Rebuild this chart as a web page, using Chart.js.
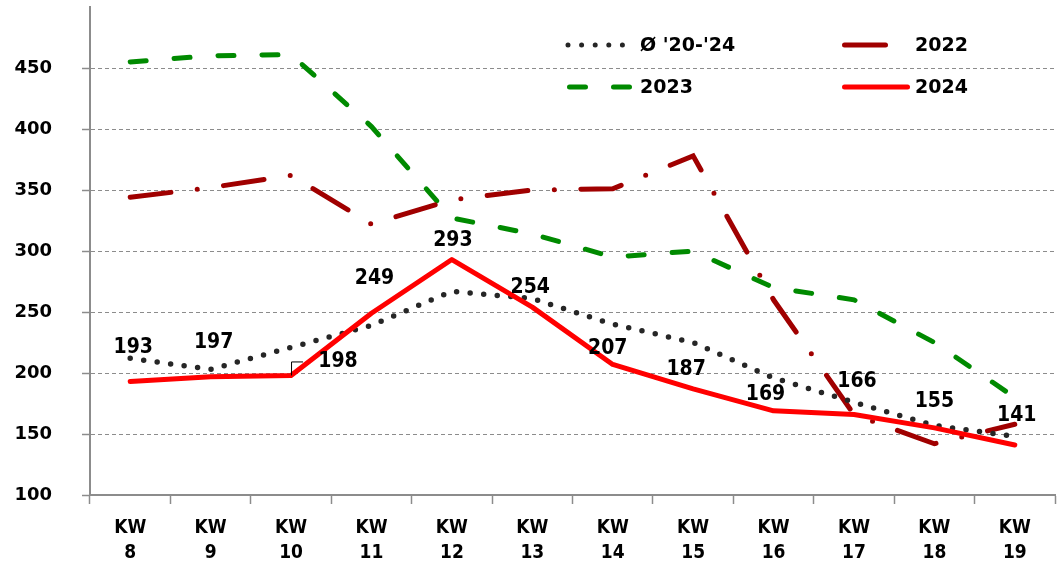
<!DOCTYPE html>
<html><head><meta charset="utf-8">
<script src="https://cdn.jsdelivr.net/npm/chart.js@4.4.1/dist/chart.umd.min.js"></script>
<style>html,body{margin:0;padding:0;background:#fff;}#wrap{width:1062px;height:571px;position:relative;}canvas{display:block;}</style>
</head><body><div id="wrap"><canvas id="c" width="1062" height="571" style="width:1062px;height:571px"></canvas></div>
<script>
const categories = [['KW','8'],['KW','9'],['KW','10'],['KW','11'],['KW','12'],['KW','13'],['KW','14'],['KW','15'],['KW','16'],['KW','17'],['KW','18'],['KW','19']];
const avg20to24 = [212, 203, 221, 239, 267, 261, 240, 225, 196, 176, 157, 148];
const values2022 = [344, 352, 362, 322, 342, 350, 351, 378, 260, 166, 142, 158];
const values2023 = [455, 460, 461, 402, 327, 314, 295, 300, 270, 260, 225, 180];
const values2024 = [193, 197, 198, 249, 293, 254, 207, 187, 169, 166, 155, 141];
const seriesNames = ["Ø '20-'24", '2022', '2023', '2024'];
const yMin = 100, yMax = 500, yStep = 50;

// label placement offsets (style only)
const labelDx = [3, 3, 47, 3, 1, -2, -5, -7, -8, 3, 0, 2];
const labelDy = [-34, -34, -14, -35, -19, -20, -16, -19, -16, -33, -26, -29];

const COL_AVG = '#262626', COL_22 = '#a00000', COL_23 = '#008a00', COL_24 = '#ff0000';
const DASH_AVG = [0, 13.6], DASH_22 = [41, 26.5, 0, 26.5], DASH_23 = [16, 28];

const labelPlugin = {
  id: 'labels24',
  afterDatasetsDraw(chart) {
    const ctx = chart.ctx;
    const meta = chart.getDatasetMeta(0);
    ctx.save();
    ctx.font = 'bold 21px "DejaVu Sans Condensed", "DejaVu Sans", sans-serif';
    ctx.fillStyle = '#000';
    ctx.textAlign = 'center';
    ctx.textBaseline = 'middle';
    meta.data.forEach((pt, i) => {
      if (i === 2) {
        ctx.strokeStyle = '#000'; ctx.lineWidth = 1;
        ctx.beginPath();
        ctx.moveTo(pt.x + 0.5, pt.y); ctx.lineTo(pt.x + 0.5, pt.y - 13.5); ctx.lineTo(pt.x + 12, pt.y - 13.5);
        ctx.stroke();
      }
      ctx.fillText(String(values2024[i]), pt.x + labelDx[i], pt.y + labelDy[i]);
    });
    ctx.restore();
  }
};

const legendPlugin = {
  id: 'customLegend',
  afterDraw(chart) {
    const ctx = chart.ctx;
    const items = [
      {name: seriesNames[0], color: COL_AVG, dash: DASH_AVG, x1: 568, x2: 624, tx: 640, y: 45},
      {name: seriesNames[1], color: COL_22, dash: DASH_22, x1: 844.5, x2: 907.5, tx: 915, y: 45},
      {name: seriesNames[2], color: COL_23, dash: DASH_23, x1: 569.5, x2: 630.5, tx: 640, y: 87},
      {name: seriesNames[3], color: COL_24, dash: [], x1: 844.5, x2: 907.5, tx: 915, y: 87}
    ];
    ctx.save();
    items.forEach(it => {
      ctx.strokeStyle = it.color; ctx.lineWidth = 5; ctx.lineCap = 'round';
      ctx.setLineDash(it.dash);
      ctx.beginPath(); ctx.moveTo(it.x1, it.y); ctx.lineTo(it.x2, it.y); ctx.stroke();
      ctx.setLineDash([]);
      ctx.font = 'bold 19px "DejaVu Sans", sans-serif';
      ctx.fillStyle = '#000'; ctx.textAlign = 'left'; ctx.textBaseline = 'middle';
      ctx.fillText(it.name, it.tx, it.y + 1);
    });
    ctx.restore();
  }
};

const gridCol = (ctx) => (ctx.tick && (ctx.tick.value === yMax || ctx.tick.value === yMin)) ? 'rgba(0,0,0,0)' : '#8c8c8c';

new Chart(document.getElementById('c'), {
  type: 'line',
  data: {
    labels: categories,
    datasets: [
      {label: seriesNames[3], data: values2024, borderColor: COL_24, borderWidth: 5, pointRadius: 0, tension: 0, borderCapStyle: 'round', borderJoinStyle: 'round'},
      {label: seriesNames[0], data: avg20to24, borderColor: COL_AVG, borderWidth: 5.5, borderDash: DASH_AVG, borderCapStyle: 'round', pointRadius: 0, tension: 0},
      {label: seriesNames[1], data: values2022, borderColor: COL_22, borderWidth: 5, borderDash: DASH_22, borderCapStyle: 'round', pointRadius: 0, tension: 0},
      {label: seriesNames[2], data: values2023, borderColor: COL_23, borderWidth: 5, borderDash: DASH_23, borderCapStyle: 'round', pointRadius: 0, tension: 0}
    ]
  },
  options: {
    responsive: false,
    animation: false,
    devicePixelRatio: 1,
    layout: {padding: {top: 7, right: 7, left: 0, bottom: 0}, autoPadding: false},
    plugins: {legend: {display: false}, tooltip: {enabled: false}},
    scales: {
      x: {
        offset: true,
        grid: {offset: true, drawOnChartArea: false, drawTicks: true, tickLength: 9, tickColor: '#8c8c8c', tickWidth: 1.5},
        border: {display: true, color: '#8c8c8c', width: 2},
        ticks: {color: '#000', padding: 11, maxRotation: 0, autoSkip: false,
          font: {family: '"DejaVu Sans Condensed", "DejaVu Sans", sans-serif', weight: 'bold', size: 19, lineHeight: 1.35}},
        afterFit(s) { s.height = 76; s.paddingLeft = 0; s.paddingRight = 0; s.paddingTop = 0; s.paddingBottom = 0; }
      },
      y: {
        min: yMin, max: yMax,
        grid: {color: gridCol, lineWidth: 1, drawTicks: true, tickLength: 8, tickColor: (c) => c.tick && c.tick.value === yMax ? 'rgba(0,0,0,0)' : '#8c8c8c', tickWidth: 1.5},
        border: {display: true, color: '#8c8c8c', width: 2, dash: [4, 3]},
        ticks: {stepSize: yStep, color: '#000', padding: 30,
          callback: (v) => v === yMax ? '' : String(v),
          font: {family: '"DejaVu Sans", sans-serif', weight: 'bold', size: 18}},
        afterFit(s) { s.width = 90; s.paddingLeft = 0; s.paddingRight = 0; s.paddingTop = 0; s.paddingBottom = 0; }
      }
    }
  },
  plugins: [labelPlugin, legendPlugin]
});
</script></body></html>
